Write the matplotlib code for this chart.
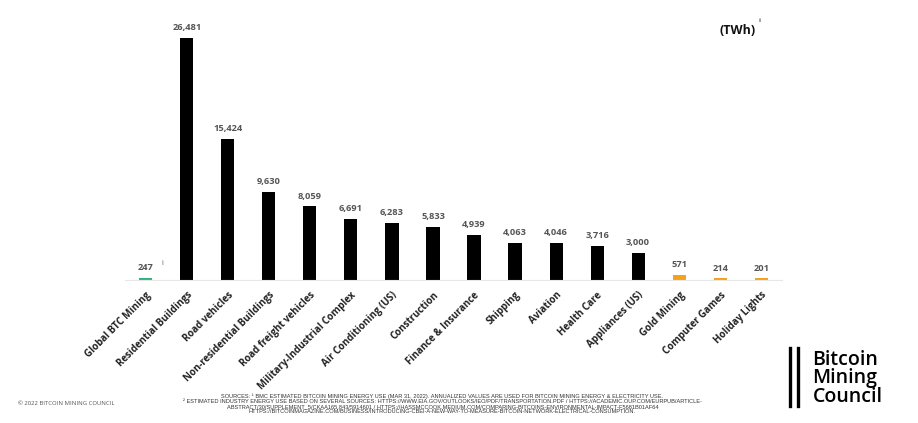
import matplotlib.pyplot as plt

categories = ["Global BTC Mining", "Residential Buildings", "Road vehicles",
              "Non-residential Buildings", "Road freight vehicles",
              "Military-Industrial Complex", "Air Conditioning (US)", "Construction",
              "Finance & Insurance", "Shipping", "Aviation", "Health Care",
              "Appliances (US)", "Gold Mining", "Computer Games", "Holiday Lights"]
values = [247, 26481, 15424, 9630, 8059, 6691, 6283, 5833, 4939, 4063, 4046,
          3716, 3000, 571, 214, 201]
bar_colors = ["#2fb57c"] + ["#000000"] * 12 + ["#f5a11c"] * 3

footnote = [
    "SOURCES: \u00b9 BMC ESTIMATED BITCOIN MINING ENERGY USE (MAR 31, 2022). ANNUALIZED VALUES ARE USED FOR BITCOIN MINING ENERGY & ELECTRICITY USE.",
    "\u00b2 ESTIMATED INDUSTRY ENERGY USE BASED ON SEVERAL SOURCES: HTTPS://WWW.EIA.GOV/OUTLOOKS/IEO/PDF/TRANSPORTATION.PDF / HTTPS://ACADEMIC.OUP.COM/EURPUB/ARTICLE-",
    "ABSTRACT/30/SUPPLEMENT_5/CKAA165.843/5914601 / HTTPS://HASSMCCOOK.MEDIUM.COM/COMPARING-BITCOINS-ENVIRONMENTAL-IMPACT-F5681B01AF64",
    "HTTPS://BITCOINMAGAZINE.COM/BUSINESS/INTRODUCING-CBEI-A-NEW-WAY-TO-MEASURE-BITCOIN-NETWORK-ELECTRICAL-CONSUMPTION.",
]

plt.rcParams["font.family"] = ["Open Sans", "DejaVu Sans"]

fig = plt.figure(figsize=(9.18, 4.23), dpi=100)
ax = fig.add_axes([0.136, 0.338, 0.716, 0.615])

x = range(len(categories))
ax.bar(x, values, width=0.32, color=bar_colors)
for xi, v in zip(x, values):
    ax.annotate(f"{v:,}", (xi, v), xytext=(0, 4), textcoords="offset points",
                ha="center", va="bottom", fontsize=6.7, fontweight="bold", color="#555555")

ax.set_xlim(-0.51, len(categories) - 0.49)
ax.set_ylim(0, 28450)
ax.set_xticks(list(x))
ax.set_xticklabels(categories, rotation=45, ha="right", rotation_mode="anchor",
                   fontsize=7, fontweight="bold", color="#222222")
ax.tick_params(axis="x", length=0, pad=7)
ax.set_yticks([])
for s in ["top", "left", "right"]:
    ax.spines[s].set_visible(False)
ax.spines["bottom"].set_color("#e6e6e6")
ax.spines["bottom"].set_linewidth(0.8)

# footnote markers
ax.annotate("i", (0, values[0]), xytext=(11, 9), textcoords="offset points",
            fontsize=5, color="#555555")
fig.text(0.784, 0.928, "(TWh)", fontsize=9, fontweight="bold", color="#111111",
         ha="left", va="center")
fig.text(0.826, 0.952, "ii", fontsize=4.5, color="#555555", ha="left", va="center")

# sources
fig.text(0.482, 0.045, "\n".join(footnote), fontsize=4.1, color="#333333",
         family="Liberation Sans", ha="center", va="center", linespacing=1.0)
fig.text(0.02, 0.047, "\u00a9 2022 BITCOIN MINING COUNCIL", fontsize=4.3,
         color="#555555", ha="left", va="center")

# logo
fig.add_artist(plt.Line2D([0.861, 0.861], [0.04, 0.177], color="black", lw=2.4))
fig.add_artist(plt.Line2D([0.869, 0.869], [0.04, 0.177], color="black", lw=2.4))
fig.text(0.885, 0.106, "Bitcoin\nMining\nCouncil", fontsize=14, color="black",
         fontweight="semibold", ha="left", va="center", linespacing=0.9)

fig.savefig("out.png", dpi=100)
